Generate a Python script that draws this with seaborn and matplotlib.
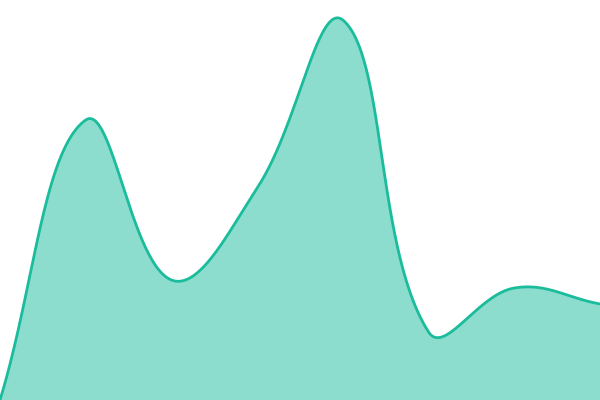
import numpy as np
import pandas as pd
import seaborn as sns
import matplotlib
matplotlib.use("Agg")
import matplotlib.pyplot as plt

sns.set_theme(style="white")

# data: evenly spaced points, y on a 0-100 scale
x_idx = [0, 1, 2, 3, 4, 5, 6, 7]
values = [0, 70, 30, 53, 95, 17, 28, 24]

line_color = "#1abc9c"
tension = 0.4


def spline_curve(ax, xs, ys, t=tension, n=60):
    # distance-weighted cardinal spline, worked out in pixel space (rendering only)
    pts = ax.transData.transform(np.column_stack([xs, ys]).astype(float))
    lo = ax.transData.transform([[xs[0], 0], [xs[-1], 100]])
    cps = []
    for i, cur in enumerate(pts):
        prev = pts[i - 1] if i > 0 else cur
        nxt = pts[i + 1] if i < len(pts) - 1 else cur
        d01 = np.hypot(*(cur - prev))
        d12 = np.hypot(*(nxt - cur))
        tot = d01 + d12
        fa = t * d01 / tot if tot else 0
        fb = t * d12 / tot if tot else 0
        c_in = cur - fa * (nxt - prev)
        c_out = cur + fb * (nxt - prev)
        c_in[1] = np.clip(c_in[1], lo[0, 1], lo[1, 1])
        c_out[1] = np.clip(c_out[1], lo[0, 1], lo[1, 1])
        cps.append((c_in, c_out))
    s = np.linspace(0, 1, n)[:, None]
    segs = []
    for i in range(len(pts) - 1):
        p0, p3 = pts[i], pts[i + 1]
        c1, c2 = cps[i][1], cps[i + 1][0]
        b = (1 - s) ** 3 * p0 + 3 * (1 - s) ** 2 * s * c1 + 3 * (1 - s) * s ** 2 * c2 + s ** 3 * p3
        segs.append(b)
    pix = np.vstack(segs)
    data = ax.transData.inverted().transform(pix)
    return data[:, 0], data[:, 1]


fig = plt.figure(figsize=(6, 4), dpi=100)
ax = fig.add_axes([0, 0, 1, 1])
ax.set_xlim(x_idx[0], x_idx[-1])
ax.set_ylim(0, 100)
ax.set_axis_off()

cx, cy = spline_curve(ax, x_idx, values)
curve = pd.DataFrame({"x": cx, "y": cy})

ax.fill_between(curve["x"], curve["y"], 0, color=line_color, alpha=0.5, linewidth=0)
sns.lineplot(data=curve, x="x", y="y", sort=False, estimator=None,
             color=line_color, linewidth=2, ax=ax)

ax.set_xlim(x_idx[0], x_idx[-1])
ax.set_ylim(0, 100)

fig.savefig("out.png", dpi=100)
